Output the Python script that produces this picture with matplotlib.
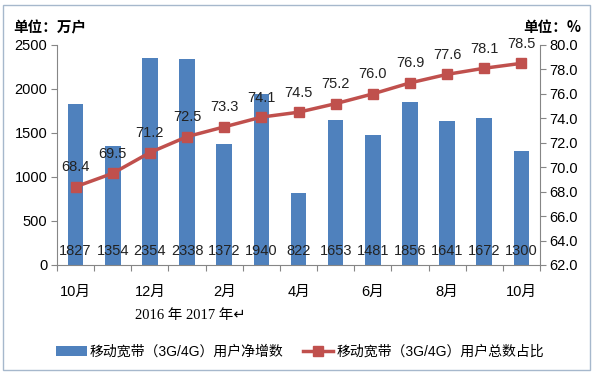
import matplotlib

matplotlib.use("Agg")
from matplotlib import pyplot as plt

plt.rcParams["font.family"] = ["Liberation Sans", "Noto Sans CJK SC", "DejaVu Sans"]

BLUE = "#4F81BD"
RED = "#C0504D"
AXIS = "#868686"
FRAME = "#A6B8CC"
CJK = ["Noto Sans CJK SC", "DejaVu Sans"]

months = ["10月", "11月", "12月", "1月", "2月", "3月", "4月",
          "5月", "6月", "7月", "8月", "9月", "10月"]
net_adds = [1827, 1354, 2354, 2338, 1372, 1940, 822, 1653, 1481, 1856, 1641, 1672, 1300]
share = [68.4, 69.5, 71.2, 72.5, 73.3, 74.1, 74.5, 75.2, 76.0, 76.9, 77.6, 78.1, 78.5]
bar_name = "移动宽带（3G/4G）用户净增数"
line_name = "移动宽带（3G/4G）用户总数占比"

fig = plt.figure(figsize=(5.95, 3.78), dpi=100, facecolor="white")
ax = fig.add_axes([57 / 595, 1 - 265 / 378, 483 / 595, 220 / 378])
ax2 = ax.twinx()

x = list(range(len(months)))
bars = ax.bar(x, net_adds, width=0.42, color=BLUE, label=bar_name, zorder=2)
for xi, v in zip(x, net_adds):
    ax.text(xi, 160, str(v), ha="center", va="center", fontsize=10.5, color="#222222", zorder=4)

line, = ax2.plot(x, share, color=RED, linewidth=2.5, marker="s", markersize=7,
                 markerfacecolor=RED, markeredgecolor=RED, label=line_name, zorder=3)
for xi, v in zip(x, share):
    ax2.annotate(f"{v:.1f}", xy=(xi, v), xytext=(0, 9), textcoords="offset points",
                 ha="center", va="bottom", fontsize=10.5, color="#222222")

ax.set_xlim(-0.5, len(months) - 0.5)
ax.set_ylim(0, 2500)
ax.set_yticks(range(0, 2501, 500))
ax2.set_ylim(62, 80)
ax2.set_yticks([62 + 2 * i for i in range(10)])
ax2.set_yticklabels([f"{62 + 2 * i:.1f}" for i in range(10)])

ax.set_xticks([i + 0.5 for i in range(-1, len(months))], minor=False)
ax.set_xticklabels([])
ax.set_xticks(x[::2], minor=True)
ax.set_xticklabels(months[::2], minor=True)
ax.tick_params(axis="x", which="major", length=4, color=AXIS, direction="out")
ax.tick_params(axis="x", which="minor", length=0, pad=14, labelsize=10.5)

for a in (ax, ax2):
    a.set_facecolor("none")
    a.spines["top"].set_visible(False)
    for s in ("left", "right", "bottom"):
        a.spines[s].set_color(AXIS)
    a.tick_params(axis="y", length=4, color=AXIS, labelsize=10.5, pad=3)
ax.spines["right"].set_visible(False)
ax2.spines["left"].set_visible(False)
ax2.spines["bottom"].set_visible(False)

fig.text(13 / 595, 1 - 27 / 378, "单位：万户", fontsize=10.5, fontweight="bold", va="center", family=CJK)
fig.text(581 / 595, 1 - 27 / 378, "单位：%", fontsize=10.5, fontweight="bold", va="center", ha="right",
         family=CJK)
fig.text(190 / 595, 1 - 316 / 378, "2016 年 2017 年↵", fontsize=10.5, va="center", ha="center",
         family=["Liberation Serif", "Noto Sans CJK SC", "DejaVu Sans"])

fig.legend([bars, line], [bar_name, line_name], loc="center", ncol=2,
           bbox_to_anchor=(300 / 595, 1 - 352 / 378), frameon=False, fontsize=10,
           handlelength=2.2, handletextpad=0.2, columnspacing=1.4)

fig.patches.append(plt.Rectangle((3 / 595, 1 - 370 / 378), 587 / 595, 365 / 378,
                                 transform=fig.transFigure, fill=False, edgecolor=FRAME, linewidth=1))

fig.savefig("out.png", dpi=100, facecolor="white")
